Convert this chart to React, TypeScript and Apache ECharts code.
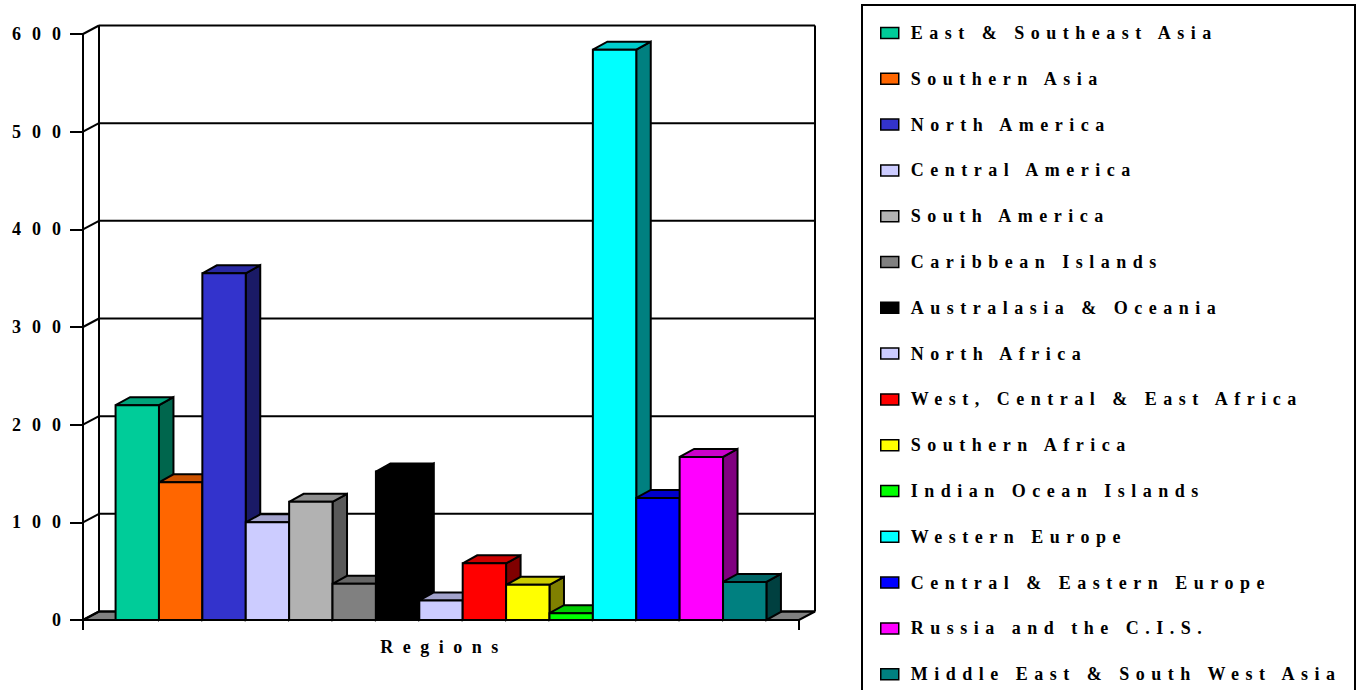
import React, { useEffect, useRef } from 'react';
import * as echarts from 'echarts';

const categories = ['Regions'];
const regionNames = [
  'East & Southeast Asia',
  'Southern Asia',
  'North America',
  'Central America',
  'South America',
  'Caribbean Islands',
  'Australasia & Oceania',
  'North Africa',
  'West, Central & East Africa',
  'Southern Africa',
  'Indian Ocean Islands',
  'Western Europe',
  'Central & Eastern Europe',
  'Russia and the C.I.S.',
  'Middle East & South West Asia',
];
const regionValues = [220, 141, 355, 100, 121, 37, 152, 20, 58, 36, 7, 584, 125, 167, 39];
const regionColors = [
  '#00CC99', '#FF6600', '#3333CC', '#CCCCFF', '#B2B2B2', '#808080', '#000000', '#CCCCFF',
  '#FF0000', '#FFFF00', '#00FF00', '#00FFFF', '#0000FF', '#FF00FF', '#008080',
];
const yTicks = [0, 100, 200, 300, 400, 500, 600];

const FONT = "'Liberation Serif', 'Times New Roman', serif";
const BAR_DX = 14.5;
const BAR_DY = 8;
const WALL_DX = 16;
const WALL_DY = 8.5;
const BARS_SHARE = 0.909;

function shade(hex: string, f: number) {
  const n = parseInt(hex.slice(1), 16);
  const r = Math.round(((n >> 16) & 255) * f);
  const g = Math.round(((n >> 8) & 255) * f);
  const b = Math.round((n & 255) * f);
  return 'rgb(' + r + ',' + g + ',' + b + ')';
}

export default function App() {
  const ref = useRef<HTMLDivElement>(null);

  useEffect(() => {
    if (!ref.current) return;
    const chart = echarts.init(ref.current, null, { renderer: 'svg' });
    const lineStyle = { stroke: '#000', lineWidth: 2 };

    const frameSeries: any = {
      type: 'custom',
      name: '__frame',
      z: 1,
      silent: true,
      data: yTicks.map((v) => [0, v]),
      encode: { x: 0, y: 1 },
      renderItem: (params: any, api: any) => {
        const v = api.value(1);
        const p = api.coord([0, v]);
        const base = api.coord([0, 0]);
        const topP = api.coord([0, yTicks[yTicks.length - 1]]);
        const band = api.size([1, 0])[0];
        const xl = p[0] - band / 2;
        const xr = p[0] + band / 2;
        const y = p[1];
        const children: any[] = [];
        if (v === 0) {
          children.push({
            type: 'polygon',
            shape: {
              points: [
                [xl, base[1]], [xr, base[1]],
                [xr + WALL_DX, base[1] - WALL_DY], [xl + WALL_DX, base[1] - WALL_DY],
              ],
            },
            style: { fill: '#808080', stroke: '#000', lineWidth: 2 },
          });
          children.push({
            type: 'line',
            shape: { x1: xl + WALL_DX, y1: topP[1] - WALL_DY, x2: xl + WALL_DX, y2: base[1] - WALL_DY },
            style: lineStyle,
          });
          children.push({
            type: 'line',
            shape: { x1: xr + WALL_DX, y1: topP[1] - WALL_DY, x2: xr + WALL_DX, y2: base[1] - WALL_DY },
            style: lineStyle,
          });
        }
        children.push({
          type: 'line',
          shape: { x1: xl, y1: y, x2: xl + WALL_DX, y2: y - WALL_DY },
          style: lineStyle,
        });
        children.push({
          type: 'line',
          shape: { x1: xl + WALL_DX, y1: y - WALL_DY, x2: xr + WALL_DX, y2: y - WALL_DY },
          style: lineStyle,
        });
        return { type: 'group', children };
      },
    };

    const n = regionNames.length;
    const barSeries = regionNames.map((name, i) => ({
      type: 'custom',
      name,
      z: 2,
      itemStyle: { color: regionColors[i] },
      data: [[0, regionValues[i]]],
      encode: { x: 0, y: 1 },
      renderItem: (params: any, api: any) => {
        const v = api.value(1);
        const base = api.coord([0, 0]);
        const top = api.coord([0, v]);
        const band = api.size([1, 0])[0];
        const bw = (band * BARS_SHARE) / n;
        const x0 = base[0] - (bw * n) / 2 + i * bw;
        const x1 = x0 + bw;
        const yb = base[1];
        const yt = top[1];
        const c = regionColors[i];
        const st = { stroke: '#000', lineWidth: 2, lineJoin: 'miter' };
        return {
          type: 'group',
          children: [
            {
              type: 'polygon',
              shape: { points: [[x1, yt], [x1 + BAR_DX, yt - BAR_DY], [x1 + BAR_DX, yb - BAR_DY], [x1, yb]] },
              style: { ...st, fill: shade(c, 0.5) },
            },
            {
              type: 'polygon',
              shape: { points: [[x0, yt], [x1, yt], [x1 + BAR_DX, yt - BAR_DY], [x0 + BAR_DX, yt - BAR_DY]] },
              style: { ...st, fill: shade(c, 0.8) },
            },
            {
              type: 'rect',
              shape: { x: x0, y: yt, width: bw, height: yb - yt },
              style: { ...st, fill: c },
            },
          ],
        };
      },
    }));

    chart.setOption({
      animation: false,
      backgroundColor: '#fff',
      grid: { left: 83, right: 567, top: 34, bottom: 70, outerBoundsMode: 'none' },
      xAxis: {
        type: 'category',
        data: categories,
        boundaryGap: true,
        axisLine: { show: true, lineStyle: { color: '#000', width: 2 } },
        axisTick: { show: true, length: 10, lineStyle: { color: '#000', width: 2 } },
        axisLabel: {
          margin: 18,
          padding: [0, 0, 0, 6],
          color: '#000',
          fontFamily: FONT,
          fontWeight: 'bold',
          fontSize: 18,
        },
        splitLine: { show: false },
      },
      yAxis: {
        type: 'value',
        min: 0,
        max: 600,
        interval: 100,
        axisLine: { show: true, lineStyle: { color: '#000', width: 2 } },
        axisTick: { show: true, length: 13, lineStyle: { color: '#000', width: 2 } },
        axisLabel: {
          margin: 11,
          color: '#000',
          fontFamily: FONT,
          fontWeight: 'bold',
          fontSize: 18,
        },
        splitLine: { show: false },
      },
      legend: {
        data: regionNames,
        orient: 'vertical',
        left: 880,
        top: 24,
        padding: 0,
        itemGap: 27.8,
        itemWidth: 18,
        itemHeight: 11,
        icon: 'rect',
        itemStyle: { borderColor: '#000', borderWidth: 1.5 },
        selectedMode: false,
        textStyle: {
          color: '#000',
          fontFamily: FONT,
          fontWeight: 'bold',
          fontSize: 18,
          padding: [0, 0, 0, 7],
        },
      },
      graphic: [
        {
          type: 'rect',
          silent: true,
          shape: { x: 862, y: 5, width: 493, height: 720 },
          style: { fill: 'none', stroke: '#000', lineWidth: 2 },
        },
      ],
      series: [frameSeries, ...barSeries],
    });

    const applySpacing = () => {
      const root = ref.current;
      if (!root) return;
      root.querySelectorAll('text').forEach((t) => {
        const s = (t.textContent || '').trim();
        let ls = '';
        if (regionNames.includes(s)) ls = '6.5px';
        else if (/^\d+$/.test(s)) ls = '11px';
        else if (categories.includes(s)) ls = '9.5px';
        if (ls) (t as any).style.letterSpacing = ls;
      });
    };
    try { (chart as any).getZr().flush(); } catch (e) {}
    applySpacing();
    chart.on('finished', applySpacing);
    const raf = requestAnimationFrame(applySpacing);
    const tm = setTimeout(applySpacing, 50);

    return () => {
      cancelAnimationFrame(raf);
      clearTimeout(tm);
      chart.dispose();
    };
  }, []);

  return (
    <div
      ref={ref}
      style={{ position: 'fixed', left: 0, top: 0, width: 1366, height: 690, background: '#fff' }}
    />
  );
}
